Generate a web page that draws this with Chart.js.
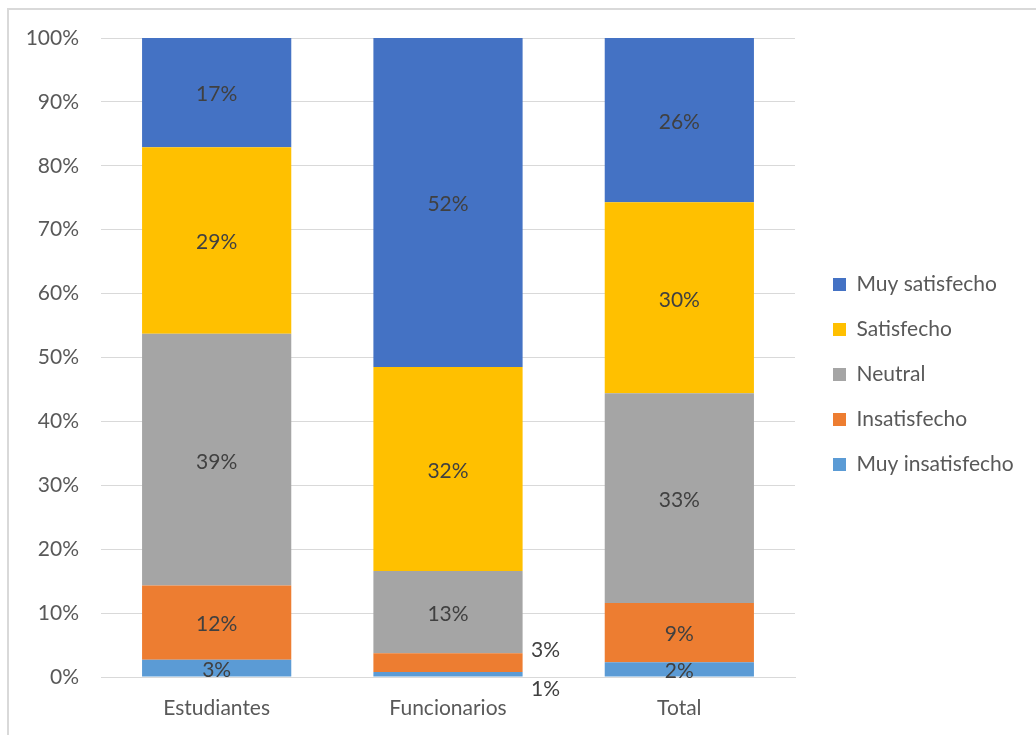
<!DOCTYPE html>
<html>
<head>
<meta charset="utf-8">
<script src="https://cdn.jsdelivr.net/npm/chart.js@4.4.0/dist/chart.umd.min.js"></script>
<style>
  html, body { margin: 0; padding: 0; background: #fff; overflow: hidden; }
  #wrap { position: relative; width: 1036px; height: 735px; }
  #frame { position: absolute; left: 7px; top: 8px; width: 1100px; height: 800px; border: 2px solid #d9d9d9; box-sizing: border-box; pointer-events: none; }
  canvas { position: absolute; left: 0; top: 0; }
</style>
</head>
<body>
<div id="wrap">
  <canvas id="c" width="1036" height="735"></canvas>
  <div id="frame"></div>
</div>
<script>
const categories = ['Estudiantes', 'Funcionarios', 'Total'];
const seriesNames = ['Muy insatisfecho', 'Insatisfecho', 'Neutral', 'Satisfecho', 'Muy satisfecho'];
const muyInsatisfecho = [2.7, 0.8, 2.3];
const insatisfecho = [11.6, 2.9, 9.3];
const neutral = [39.4, 12.9, 32.8];
const satisfecho = [29.2, 31.9, 29.9];
const muySatisfecho = [17.1, 51.5, 25.7];
const yTicks = [0, 10, 20, 30, 40, 50, 60, 70, 80, 90, 100];

const seriesValues = [muyInsatisfecho, insatisfecho, neutral, satisfecho, muySatisfecho];
const seriesColors = ['#5B9BD5', '#ED7D31', '#A5A5A5', '#FFC000', '#4472C4'];

const FONT = "Lato, 'Open Sans', sans-serif";
const FS = 21;

const legendTweak = {
  id: 'legendTweak',
  afterInit(chart) {
    const lg = chart.legend;
    if (!lg) return;
    const f = lg.fit;
    lg.fit = function () { f.call(this); this.width = 241; };
  },
  afterLayout(chart) {
    const lg = chart.legend;
    if (!lg) return;
    const dx = 833 - (lg.left + lg.options.labels.padding);
    lg.left += dx; lg.right += dx;
    const dy = -12;
    lg.top += dy; lg.bottom += dy;
  }
};

const labelPlugin = {
  id: 'segLabels',
  afterDatasetsDraw(chart) {
    const ctx = chart.ctx;
    ctx.save();
    ctx.font = FS + 'px ' + FONT;
    ctx.fillStyle = '#404040';
    ctx.textAlign = 'center';
    ctx.textBaseline = 'middle';
    const n = chart.data.labels.length;
    for (let i = 0; i < n; i++) {
      const segs = [];
      chart.data.datasets.forEach((ds, di) => {
        const el = chart.getDatasetMeta(di).data[i];
        segs.push({ x: el.x, top: el.y, base: el.base, half: el.width / 2, cy: (el.y + el.base) / 2, v: ds.data[i], out: 0 });
      });
      for (let k = 1; k < segs.length; k++) {
        if (Math.abs(segs[k].cy - segs[k - 1].cy) < 20) {
          segs[k - 1].out = 1;
          segs[k].out = -1;
        }
      }
      segs.forEach(s => {
        const txt = Math.round(s.v) + '%';
        if (s.out === 0) {
          ctx.fillText(txt, s.x, s.cy + 2);
        } else if (s.out === 1) {
          ctx.fillText(txt, s.x + s.half + 23, s.base + 13);
        } else {
          ctx.fillText(txt, s.x + s.half + 23, s.cy - 12);
        }
      });
    }
    ctx.restore();
  }
};

new Chart(document.getElementById('c'), {
  type: 'bar',
  data: {
    labels: categories,
    datasets: seriesNames.map((name, i) => ({
      label: name,
      data: seriesValues[i],
      backgroundColor: seriesColors[i],
      borderWidth: 0,
      barPercentage: 0.645,
      categoryPercentage: 1.0
    }))
  },
  options: {
    responsive: false,
    animation: false,
    layout: { padding: { top: 38, left: 0, right: 0, bottom: 0 } },
    plugins: {
      legend: {
        position: 'right',
        reverse: true,
        labels: {
          font: { family: FONT, size: FS },
          color: '#595959',
          boxWidth: 13,
          boxHeight: 13,
          padding: 24
        }
      },
      tooltip: { enabled: false }
    },
    scales: {
      x: {
        stacked: true,
        grid: { display: false, drawTicks: false },
        border: { display: true, color: '#d9d9d9', width: 1 },
        ticks: { font: { family: FONT, size: FS }, color: '#595959', padding: 19 },
        afterFit(s) { s.height = 58; }
      },
      y: {
        stacked: true,
        min: 0,
        max: 100,
        afterBuildTicks(s) { s.ticks = yTicks.map(v => ({ value: v })); },
        grid: { color: '#d9d9d9', lineWidth: 1, drawTicks: false },
        border: { display: false },
        ticks: { font: { family: FONT, size: FS }, color: '#595959', padding: 22, callback: v => v + '%' },
        afterFit(s) { s.width = 101; }
      }
    }
  },
  plugins: [legendTweak, labelPlugin]
});
</script>
</body>
</html>
